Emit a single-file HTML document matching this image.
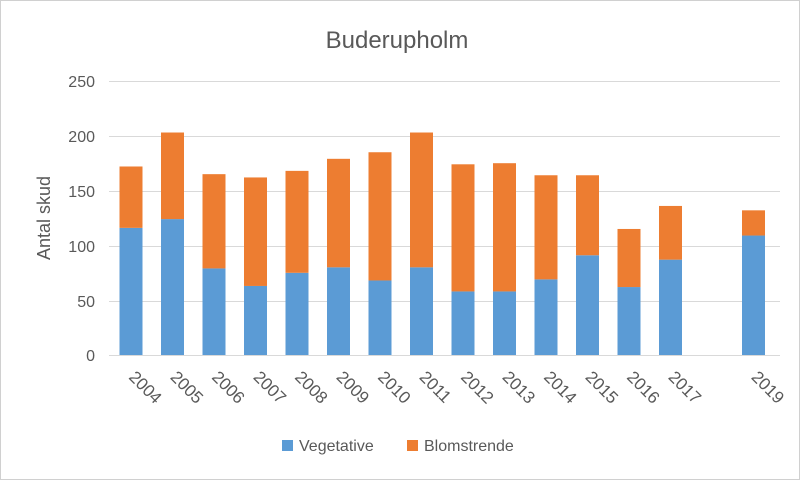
<!DOCTYPE html><html><head><style>body{margin:0;background:#fff}</style></head><body>
<svg width="800" height="480" xmlns="http://www.w3.org/2000/svg" font-family="Liberation Sans, sans-serif">
<rect x="0.5" y="0.5" width="799" height="479" fill="#fff" stroke="#d0d0d0"/>
<text x="397" y="48" font-size="24" fill="#595959" text-anchor="middle">Buderupholm</text>
<g stroke="#d9d9d9" stroke-width="1">
<line x1="109" x2="780" y1="81.5" y2="81.5"/><line x1="109" x2="780" y1="136.5" y2="136.5"/><line x1="109" x2="780" y1="191.5" y2="191.5"/><line x1="109" x2="780" y1="246.5" y2="246.5"/><line x1="109" x2="780" y1="301.5" y2="301.5"/><line x1="109" x2="780" y1="355.5" y2="355.5"/>
</g>
<g font-size="16" fill="#595959" text-anchor="end">
<text x="95" y="87">250</text><text x="95" y="142">200</text><text x="95" y="197">150</text><text x="95" y="252">100</text><text x="95" y="307">50</text><text x="95" y="361">0</text>
</g>
<text transform="translate(50,218) rotate(-90)" font-size="18" fill="#595959" text-anchor="middle">Antal skud</text>
<g id="bars"></g>
<g id="labels" font-size="17" fill="#595959"></g>
<rect x="282" y="440" width="11" height="11" fill="#5B9BD5"/>
<text x="299" y="451" font-size="16" fill="#595959">Vegetative</text>
<rect x="407" y="440" width="11" height="11" fill="#ED7D31"/>
<text x="424" y="451" font-size="16" fill="#595959">Blomstrende</text>
<script>
var d=[[2004,116,172],[2005,124,203],[2006,79,165],[2007,63,162],[2008,75,168],[2009,80,179],[2010,68,185],[2011,80,203],[2012,58,174],[2013,58,175],[2014,69,164],[2015,91,164],[2016,62,115],[2017,87,136],[2018,0,0],[2019,109,132]];
var b=document.getElementById('bars'),l=document.getElementById('labels'),ns='http://www.w3.org/2000/svg';
var s=274/250;
d.forEach(function(r,i){var cx=131+i*41.5;
 if(r[2]>0){
 var a=document.createElementNS(ns,'rect');a.setAttribute('x',cx-11.5);a.setAttribute('width',23);a.setAttribute('y',355-r[1]*s);a.setAttribute('height',r[1]*s);a.setAttribute('fill','#5B9BD5');b.appendChild(a);
 var o=document.createElementNS(ns,'rect');o.setAttribute('x',cx-11.5);o.setAttribute('width',23);o.setAttribute('y',355-r[2]*s);o.setAttribute('height',(r[2]-r[1])*s);o.setAttribute('fill','#ED7D31');b.appendChild(o);
 var t=document.createElementNS(ns,'text');t.setAttribute('transform','translate('+(cx-3)+',378) rotate(45)');t.textContent=r[0];l.appendChild(t);}
});
</script>
</svg></body></html>
